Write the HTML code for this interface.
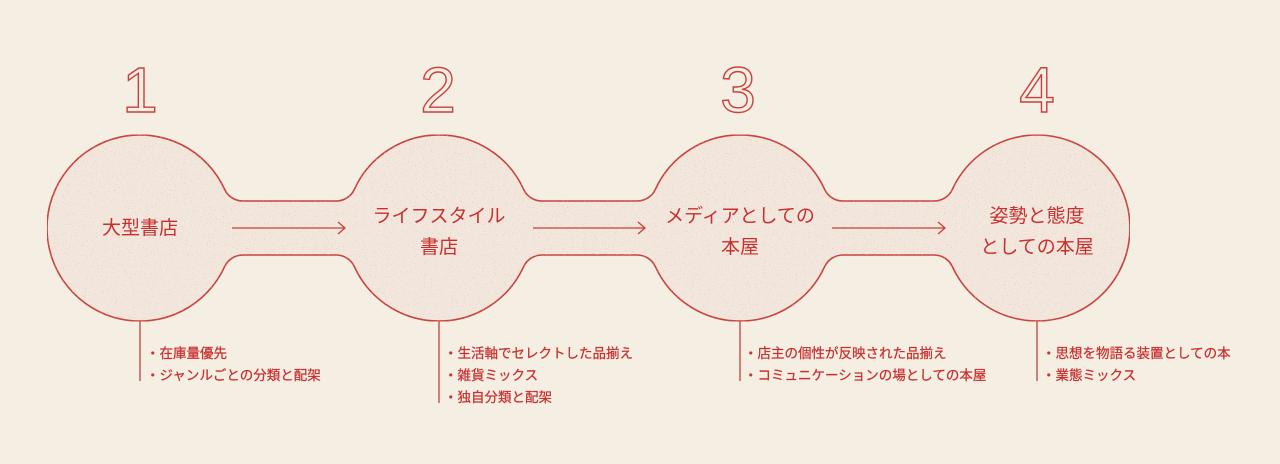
<!DOCTYPE html>
<html><head><meta charset="utf-8"><style>
html,body{margin:0;padding:0;background:#f5eee3;}
svg{display:block}
text{font-family:"Liberation Sans","Noto Sans CJK JP",sans-serif;}
</style></head><body>
<svg width="1280" height="464" viewBox="0 0 1280 464" xmlns="http://www.w3.org/2000/svg">
<defs>
<filter id="n" x="0" y="0" width="100%" height="100%">
<feTurbulence type="fractalNoise" baseFrequency="0.95" numOctaves="1" seed="3" result="t"/>
<feColorMatrix in="t" type="matrix" values="0 0 0 0 0.82  0 0 0 0 0.42  0 0 0 0 0.40  0 0 0 -6 2.2" result="s"/>
<feComposite in="s" in2="SourceGraphic" operator="in" result="m"/>
<feMerge><feMergeNode in="SourceGraphic"/><feMergeNode in="m"/></feMerge>
</filter>
</defs>
<rect width="1280" height="464" fill="#f5eee3"/>
<path filter="url(#n)" fill="#f2e7dd" stroke="#c9403c" stroke-width="1.6" d="
M 47 228 A 93 93 0 0 1 224.6 189.3 A 20 20 0 0 0 242.8 201 L 336.2 201 A 20 20 0 0 0 354.4 189.3
A 93 93 0 0 1 523.6 189.3 A 20 20 0 0 0 541.8 201 L 637.2 201 A 20 20 0 0 0 655.4 189.3
A 93 93 0 0 1 824.6 189.3 A 20 20 0 0 0 842.8 201 L 934.2 201 A 20 20 0 0 0 952.4 189.3
A 93 93 0 1 1 952.4 266.7 A 20 20 0 0 0 934.2 255 L 842.8 255 A 20 20 0 0 0 824.6 266.7
A 93 93 0 0 1 655.4 266.7 A 20 20 0 0 0 637.2 255 L 541.8 255 A 20 20 0 0 0 523.6 266.7
A 93 93 0 0 1 354.4 266.7 A 20 20 0 0 0 336.2 255 L 242.8 255 A 20 20 0 0 0 224.6 266.7
A 93 93 0 0 1 47 228 Z"/>
<g fill="none" stroke="#c9403c" stroke-width="1.3">
<path d="M232 228 H345 M338 222 L345 228 L338 234"/>
<path d="M533 228 H645 M638 222 L645 228 L638 234"/>
<path d="M832 228 H945 M938 222 L945 228 L938 234"/>
<path d="M140 321 V381 M439 321 V403 M740 321 V381 M1037 321 V381"/>
</g>
<g fill="none" stroke="#c9403c" stroke-width="1.4" font-size="64" text-anchor="middle">
<text x="140" y="112">1</text>
<text x="438" y="112">2</text>
<text x="738" y="112">3</text>
<text x="1037" y="112">4</text>
</g>
<g fill="#c8302f" font-size="19" text-anchor="middle">
<text x="140" y="234">大型書店</text>
<text x="439" y="222">ライフスタイル</text>
<text x="439" y="253">書店</text>
<text x="740" y="222">メディアとしての</text>
<text x="740" y="253">本屋</text>
<text x="1037" y="222">姿勢と態度</text>
<text x="1037" y="253">としての本屋</text>
</g>
<g fill="#c8302f" font-size="13.5" stroke="#c8302f" stroke-width="0.25">
<text x="146" y="358">・在庫量優先</text>
<text x="146" y="380">・ジャンルごとの分類と配架</text>
<text x="444" y="358">・生活軸でセレクトした品揃え</text>
<text x="444" y="380">・雑貨ミックス</text>
<text x="444" y="402">・独自分類と配架</text>
<text x="744" y="358">・店主の個性が反映された品揃え</text>
<text x="744" y="380">・コミュニケーションの場としての本屋</text>
<text x="1042" y="358">・思想を物語る装置としての本</text>
<text x="1042" y="380">・業態ミックス</text>
</g>
</svg>
</body></html>
